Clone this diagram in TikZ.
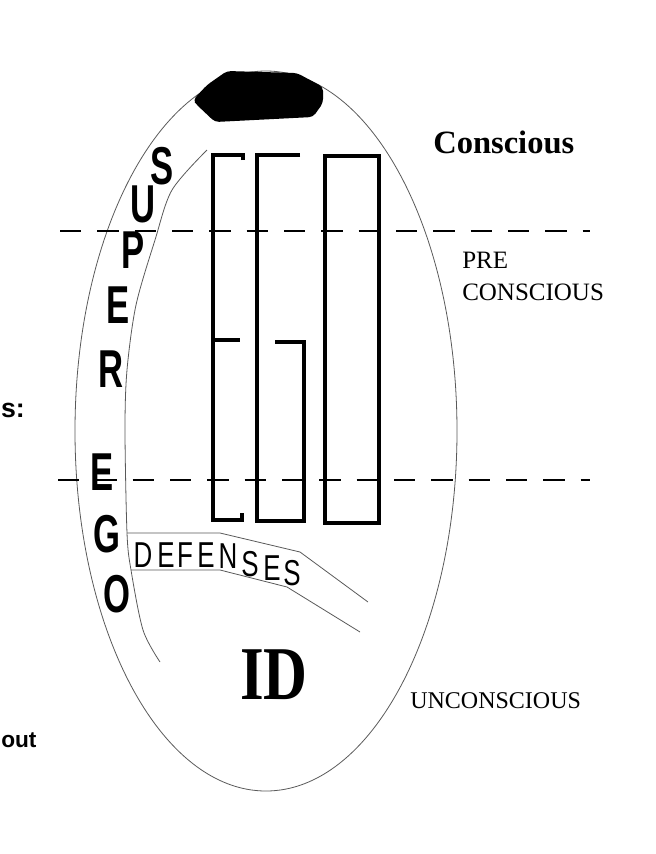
\documentclass[tikz,border=0pt]{standalone}
\usepackage{fontspec}
\setmainfont{Liberation Serif}
\newfontfamily\arialfont{Liberation Sans}
\newcommand{\egochar}[1]{{\arialfont\bfseries\fontsize{40}{40}\selectfont\scalebox{0.65}[1]{#1}}}
\newcommand{\defchar}[1]{{\arialfont\fontsize{27}{27}\selectfont\scalebox{0.72}[1]{#1}}}

\begin{document}
\begin{tikzpicture}[x=0.75pt, y=-0.75pt,
    thinline/.style={line width=0.6pt, gray!70!black},
    levelline/.style={line width=1pt, dash pattern=on 16pt off 12pt},
    egoline/.style={line width=3.6pt, line join=miter},
    letter/.style={inner sep=0pt}]
    \useasboundingbox (0,0) rectangle (656,854);
    \clip (0,0) rectangle (656,854);

    % --- Outer oval (the mind) ---
    \draw[thinline] (266,431) ellipse [x radius=143.25pt, y radius=270pt];

    % --- Black cap at the top ---
    \fill[black, rounded corners=3pt]
        (193,100)
        -- (207,85)
        -- (227,71)
        -- (297,73)
        -- (323,87)
        -- (323,103)
        -- (313,117)
        -- (215,122)
        -- (197,105)
        -- cycle;

    % --- Level lines (conscious / pre / unconscious) ---
    \draw[levelline] (60,231) -- (590,231);
    \draw[levelline] (58,480) -- (590,480);

    % --- Super ego boundary and defenses band ---
    \draw[thinline] plot[smooth, tension=0.5] coordinates
        {(207,150) (172,190) (155,240) (136,305) (127,370) (125,430)
         (127,533) (131,570) (143,630) (160,662)};
    \draw[thinline] (127,533) -- (220,533) -- (300,552) -- (368,602);
    \draw[thinline] (131,570) -- (220,570) -- (287,587) -- (360,632);

    % --- EGO blocks ---
    \draw[egoline] (243,160) -- (243,155) -- (213,155) -- (213,520) -- (242,520) -- (242,513);
    \draw[egoline] (213,340) -- (240,340);
    \draw[egoline] (300,155) -- (257,155) -- (257,521) -- (304,521) -- (304,342) -- (275,342);
    \draw[egoline] (325,156) rectangle (379,523);

    % --- SUPER EGO letters down the left ---
    \foreach \ch/\px/\py [count=\i] in {S/162/166, U/143/204, P/133/250, E/118/305,
                                       R/111/369, E/102/472, G/107/534, O/117/594}
        \node[letter] (se\i) at (\px,\py) {\egochar{\ch}};

    % --- DEFENSES ---
    \foreach \ch/\px/\py [count=\i] in {D/143/555, E/166/555, F/185/555, E/206/555,
                                       N/228/556, S/250/564, E/272/568, S/292/573}
        \node[letter] (df\i) at (\px,\py) {\defchar{\ch}};

    % --- Levels of awareness ---
    \node[letter, anchor=base west, font=\bfseries\fontsize{24.4}{28}\selectfont] (conscious) at (433,153) {Conscious};
    \node[letter, anchor=base west, font=\fontsize{18.75}{24}\selectfont] (pre) at (462,268) {PRE};
    \node[letter, anchor=base west, font=\fontsize{18.75}{24}\selectfont] (precons) at (462,300) {CONSCIOUS};
    \node[letter, anchor=base west, font=\fontsize{18}{22}\selectfont] (uncons) at (410,708) {UNCONSCIOUS};
    \node[letter, anchor=base west] (id) at (240,699) {\fontsize{57}{57}\selectfont\bfseries\scalebox{0.8}[1]{ID}};

    % --- labels at the left edge ---
    \node[letter, anchor=base east, font=\arialfont\bfseries\fontsize{20}{24}\selectfont] (lbls) at (25,417) {s:};
    \node[letter, anchor=base west, font=\arialfont\bfseries\fontsize{17}{20}\selectfont] (lblout) at (1,747) {out};

\end{tikzpicture}
\end{document}
